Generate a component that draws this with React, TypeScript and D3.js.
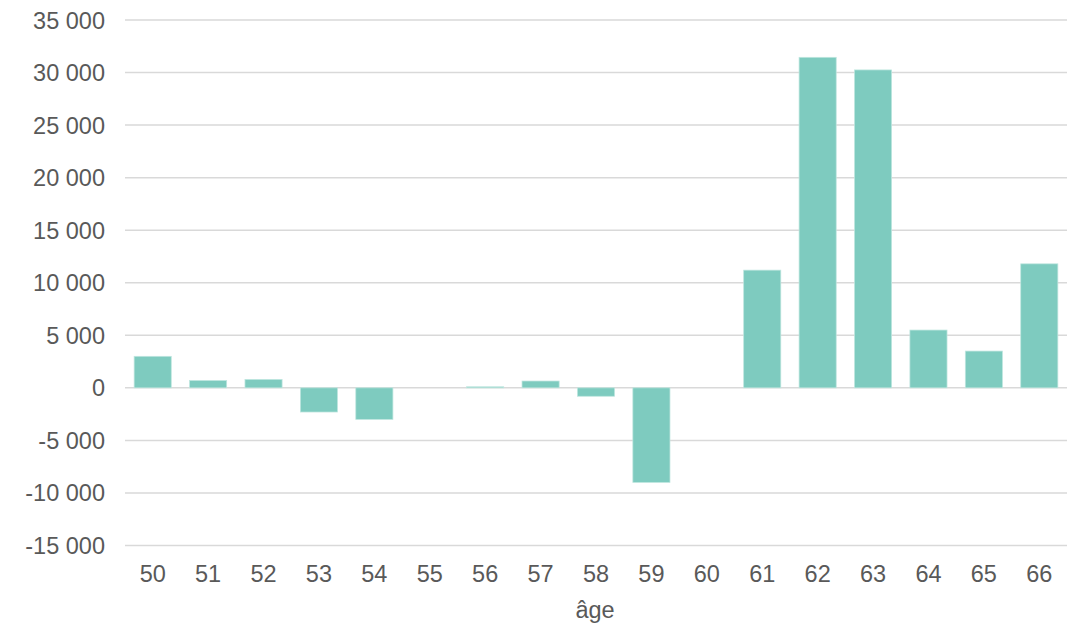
import React from "react";
import * as d3 from "d3";

const ages: string[] = ["50","51","52","53","54","55","56","57","58","59","60","61","62","63","64","65","66"];
const values: number[] = [3000, 700, 800, -2300, -3000, 0, 100, 650, -800, -9000, 0, 11200, 31450, 30250, 5500, 3500, 11800];
const yTicks: number[] = [-15000, -10000, -5000, 0, 5000, 10000, 15000, 20000, 25000, 30000, 35000];
const xTitle = "âge";

const W = 1068, H = 624;
const FONT = "'Liberation Sans', Arial, sans-serif";
const TEXT = "#595959";
const FS = 23.5;

function fmt(v: number): string {
  const s = Math.abs(v).toString();
  let out = "";
  for (let i = 0; i < s.length; i++) {
    const fromEnd = s.length - i;
    out += s[i];
    if (fromEnd > 1 && (fromEnd - 1) % 3 === 0) out += "\u00a0";
  }
  return (v < 0 ? "-" : "") + out;
}

export default function App() {
  const x = d3.scaleBand<string>().domain(ages).range([125, 1067]).paddingInner(0.33).paddingOuter(0.165);
  const y = d3.scaleLinear().domain([-15000, 35000]).range([545.5, 20]);
  return (
    <div style={{ position: "fixed", left: 0, top: 0, width: W, height: H, background: "#fff" }}>
      <svg width={W} height={H} style={{ display: "block" }}>
        {yTicks.map((t) => (
          <g key={t}>
            <line x1={125} x2={1067} y1={y(t)} y2={y(t)} stroke="#d9d9d9" strokeWidth={1.5} />
            <text x={105} y={y(t) + 8.5} textAnchor="end" fontFamily={FONT} fontSize={FS} fill={TEXT}>{fmt(t)}</text>
          </g>
        ))}
        {ages.map((a, i) => {
          const v = values[i];
          const y0 = y(0), y1 = y(v);
          return (
            <rect key={a} x={x(a)} width={x.bandwidth()} y={Math.min(y0, y1)} height={Math.abs(y1 - y0)}
              fill="#7ecbbf" stroke="#bfe6df" strokeWidth={0.75} />
          );
        })}
        {ages.map((a) => (
          <text key={a} x={(x(a) as number) + x.bandwidth() / 2} y={582} textAnchor="middle" fontFamily={FONT} fontSize={FS} fill={TEXT}>{a}</text>
        ))}
        <text x={595} y={618} textAnchor="middle" fontFamily={FONT} fontSize={FS} fill={TEXT}>{xTitle}</text>
      </svg>
    </div>
  );
}
